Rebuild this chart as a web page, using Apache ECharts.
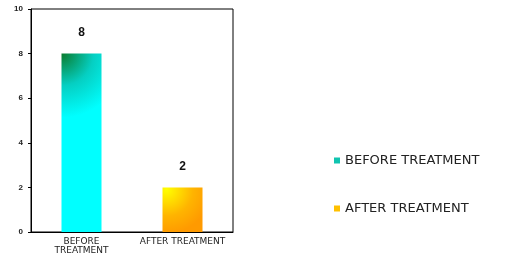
<!DOCTYPE html>
<html>
<head>
<meta charset="utf-8">
<script src="https://cdn.jsdelivr.net/npm/echarts@6/dist/echarts.min.js"></script>
<style>
  html, body { margin: 0; padding: 0; background: #fff; }
  #chart { width: 506px; height: 256px; }
</style>
</head>
<body>
<div id="chart"></div>
<script>
// data
var categories = ['BEFORE TREATMENT', 'AFTER TREATMENT'];
var seriesNames = ['BEFORE TREATMENT', 'AFTER TREATMENT'];
var beforeValues = [8, '-'];
var afterValues = ['-', 2];
var yTicks = [0, 2, 4, 6, 8, 10];

var myChart = echarts.init(document.getElementById('chart'));

// gradients like the original office chart
var cyanFill = new echarts.graphic.RadialGradient(0, 0, 1.6, [
  { offset: 0, color: '#0a7a2c' },
  { offset: 0.5, color: '#05cfc2' },
  { offset: 1, color: '#00ffff' }
]);
var orangeFill = new echarts.graphic.RadialGradient(0.1, 0.05, 1.1, [
  { offset: 0, color: '#ffff00' },
  { offset: 0.6, color: '#ffb400' },
  { offset: 1, color: '#ff9a00' }
]);

var option = {
  animation: false,
  grid: {
    left: 31, right: 273, top: 9, bottom: 24,
    show: true, borderColor: '#000', borderWidth: 1
  },
  legend: {
    orient: 'vertical',
    left: 329, top: 149,
    itemGap: 35,
    itemWidth: 6, itemHeight: 6,
    icon: 'rect',
    data: [
      { name: seriesNames[0], itemStyle: { color: '#10c4b0' } },
      { name: seriesNames[1], itemStyle: { color: '#ffc000' } }
    ],
    textStyle: { fontFamily: 'DejaVu Sans', fontSize: 13, color: '#222' }
  },
  xAxis: {
    type: 'category',
    data: categories,
    axisLine: { lineStyle: { color: '#000', width: 1 } },
    axisTick: { length: 3, lineStyle: { color: '#000' } },
    axisLabel: {
      interval: 0,
      color: '#222', fontFamily: 'DejaVu Sans', fontSize: 9, margin: 5, lineHeight: 9,
      formatter: function (v) { return v === 'BEFORE TREATMENT' ? 'BEFORE\nTREATMENT' : v; }
    }
  },
  yAxis: {
    type: 'value',
    min: 0, max: 10, interval: 2,
    axisLine: { show: true, lineStyle: { color: '#000', width: 1 } },
    axisTick: { show: true, length: 3, lineStyle: { color: '#000' } },
    splitLine: { show: false },
    axisLabel: { color: '#222', fontFamily: 'Liberation Sans', fontSize: 8, fontWeight: 'bold', margin: 8 }
  },
  series: [
    {
      name: seriesNames[0], type: 'bar', data: beforeValues,
      barWidth: 40, barGap: '-100%',
      itemStyle: { color: cyanFill },
      label: { show: true, position: 'top', distance: 15, fontFamily: 'Liberation Sans', fontWeight: 'bold', fontSize: 12, color: '#111' }
    },
    {
      name: seriesNames[1], type: 'bar', data: afterValues,
      barWidth: 40,
      itemStyle: { color: orangeFill },
      label: { show: true, position: 'top', distance: 15, fontFamily: 'Liberation Sans', fontWeight: 'bold', fontSize: 12, color: '#111' }
    }
  ]
};

myChart.setOption(option);
</script>
</body>
</html>
